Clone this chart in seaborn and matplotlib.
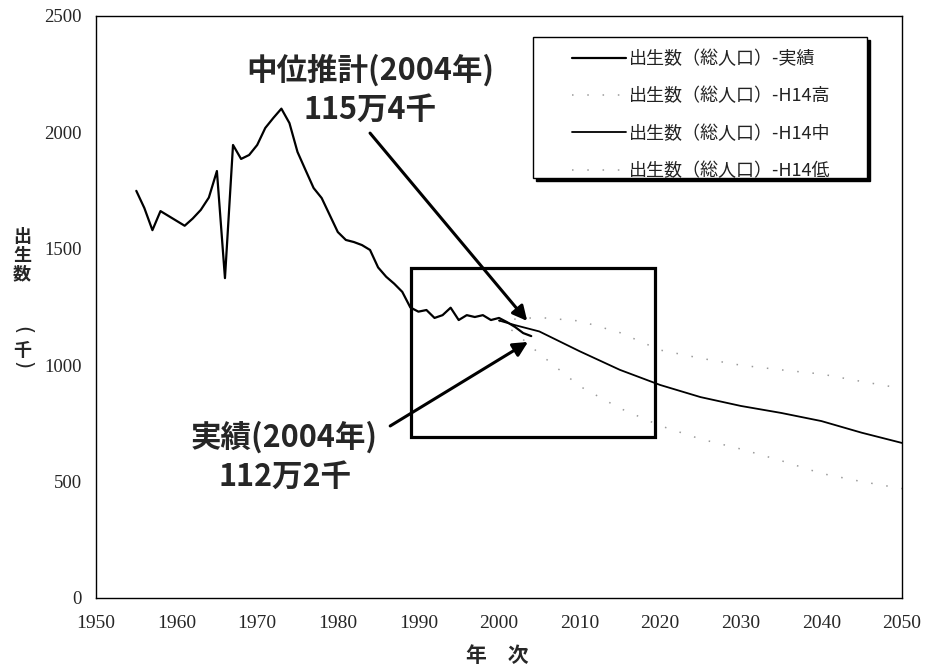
import matplotlib
matplotlib.use("Agg")
import matplotlib.pyplot as plt
from matplotlib.patches import Rectangle
from matplotlib.lines import Line2D
import matplotlib.transforms as mtransforms
import seaborn as sns
import pandas as pd

# ---------------- data ----------------
actual_years = list(range(1955, 2005))
actual_births = [1749, 1675, 1580, 1662, 1641, 1620, 1599, 1630, 1667, 1720,
                 1834, 1374, 1946, 1886, 1903, 1946, 2019, 2062, 2102, 2040,
                 1916, 1838, 1761, 1718, 1645, 1572, 1538, 1529, 1516, 1495,
                 1420, 1380, 1350, 1315, 1248, 1230, 1237, 1203, 1215, 1247,
                 1194, 1215, 1207, 1215, 1194, 1203, 1185, 1164, 1138, 1125]

proj_years = [2000, 2002, 2004, 2005, 2010, 2015, 2020, 2025, 2030, 2035, 2040, 2045, 2050]
high_births = [1190, 1198, 1203, 1205, 1190, 1140, 1065, 1030, 1000, 980, 962, 930, 900]
mid_births = [1192, 1172, 1154, 1145, 1060, 980, 915, 863, 825, 795, 760, 710, 666]
low_births = [1190, 1140, 1080, 1050, 910, 815, 740, 683, 640, 590, 535, 500, 470]

series_labels = ["出生数（総人口）-実績", "出生数（総人口）-H14高",
                 "出生数（総人口）-H14中", "出生数（総人口）-H14低"]

x_ticks = [1950, 1960, 1970, 1980, 1990, 2000, 2010, 2020, 2030, 2040, 2050]
y_ticks = [0, 500, 1000, 1500, 2000, 2500]

note_mid = "中位推計(2004年)\n115万4千"
note_act = "実績(2004年)\n112万2千"
y_label_chars = ["出", "生", "数", "(", "千", ")"]
x_label = "年　次"

# ---------------- style ----------------
sns.set_style("white")
plt.rcParams['font.family'] = ['Noto Sans CJK JP', 'DejaVu Sans']

fig = plt.figure(figsize=(9.25, 6.66), dpi=100)
ax = fig.add_axes([96/925, 68/666, 806/925, 582/666])

df_act = pd.DataFrame({"year": actual_years, "births": actual_births})
df_high = pd.DataFrame({"year": proj_years, "births": high_births})
df_mid = pd.DataFrame({"year": proj_years, "births": mid_births})
df_low = pd.DataFrame({"year": proj_years, "births": low_births})

dot_style = (0, (1, 9))
dot_color = "#9a9a9a"
sns.lineplot(data=df_high, x="year", y="births", ax=ax, color=dot_color,
             linewidth=1.1, linestyle=dot_style, zorder=2)
sns.lineplot(data=df_low, x="year", y="births", ax=ax, color=dot_color,
             linewidth=1.1, linestyle=dot_style, zorder=2)
sns.lineplot(data=df_mid, x="year", y="births", ax=ax, color="black",
             linewidth=1.3, zorder=3)
sns.lineplot(data=df_act, x="year", y="births", ax=ax, color="black",
             linewidth=1.6, zorder=4)

ax.set_xlim(1950, 2050)
ax.set_ylim(0, 2500)
ax.set_xticks(x_ticks)
ax.set_yticks(y_ticks)
ax.set_xticklabels([str(v) for v in x_ticks], fontfamily="Liberation Serif", fontsize=14)
ax.set_yticklabels([str(v) for v in y_ticks], fontfamily="Liberation Serif", fontsize=13.5)
ax.tick_params(axis="both", direction="in", length=4, width=1, color="black")
ax.tick_params(axis="x", pad=12)
ax.tick_params(axis="y", pad=10)
ax.set_xlabel("")
ax.set_ylabel("")
for s in ax.spines.values():
    s.set_visible(True)
    s.set_color("black")
    s.set_linewidth(1.0)

# y label (vertical stacked characters) and x label
y_char_pos = [237, 256, 274, 330, 350, 365]
for ch, py in zip(y_label_chars, y_char_pos):
    if ch in "()":
        fig.text(22/925, 1 - py/666, ch, ha="center", va="center", fontsize=15,
                 fontfamily="DejaVu Sans", rotation=-90)
    else:
        fig.text(22/925, 1 - py/666, ch, ha="center", va="center", fontsize=13,
                 fontweight="bold")
fig.text(497/925, 1 - 655/666, x_label, ha="center", va="center",
         fontsize=15, fontweight="bold")

# highlight box
box_x0, box_x1, box_y0, box_y1 = 1989.1, 2019.4, 692, 1418
ax.add_patch(Rectangle((box_x0, box_y0), box_x1 - box_x0, box_y1 - box_y0,
                       fill=False, edgecolor="black", linewidth=2.3, zorder=5))

# annotations
arrow_kw = dict(arrowstyle="-|>", lw=2.2, color="black", mutation_scale=22,
                shrinkA=0, shrinkB=0)
ax.annotate("", xy=(2003.5, 1190), xytext=(1984.0, 1997), arrowprops=arrow_kw, zorder=6)
ax.annotate("", xy=(2003.6, 1100), xytext=(1986.5, 739), arrowprops=arrow_kw, zorder=6)
ax.text(1984.0, 2182, note_mid, ha="center", va="center", fontsize=22,
        fontweight="bold", linespacing=1.25, zorder=7)
ax.text(1973.4, 606, note_act, ha="center", va="center", fontsize=22,
        fontweight="bold", linespacing=1.3, zorder=7)

# legend box with shadow
lx0, lx1 = (533 - 96) / 806, (867 - 96) / 806
ly0, ly1 = (598 - 178) / 582, (598 - 37) / 582
shadow_tr = ax.transAxes + mtransforms.ScaledTranslation(3/100, -3/100, fig.dpi_scale_trans)
ax.add_patch(Rectangle((lx0, ly0), lx1 - lx0, ly1 - ly0, transform=shadow_tr,
                       facecolor="black", edgecolor="black", zorder=8))
ax.add_patch(Rectangle((lx0, ly0), lx1 - lx0, ly1 - ly0, transform=ax.transAxes,
                       facecolor="white", edgecolor="black", linewidth=1.0, zorder=9))

handles = [Line2D([], [], color="black", lw=1.6),
           Line2D([], [], color=dot_color, lw=1.1, linestyle=dot_style),
           Line2D([], [], color="black", lw=1.3),
           Line2D([], [], color=dot_color, lw=1.1, linestyle=dot_style)]
leg = ax.legend(handles, series_labels, loc="upper left",
                bbox_to_anchor=((572 - 96) / 806, (598 - 50) / 582),
                frameon=False, borderpad=0, borderaxespad=0, fontsize=13,
                handlelength=3.0, handletextpad=0.15, labelspacing=1.07)
leg.set_zorder(10)
for t in leg.get_texts():
    t.set_color("#222222")

fig.savefig("out.png", dpi=100)
